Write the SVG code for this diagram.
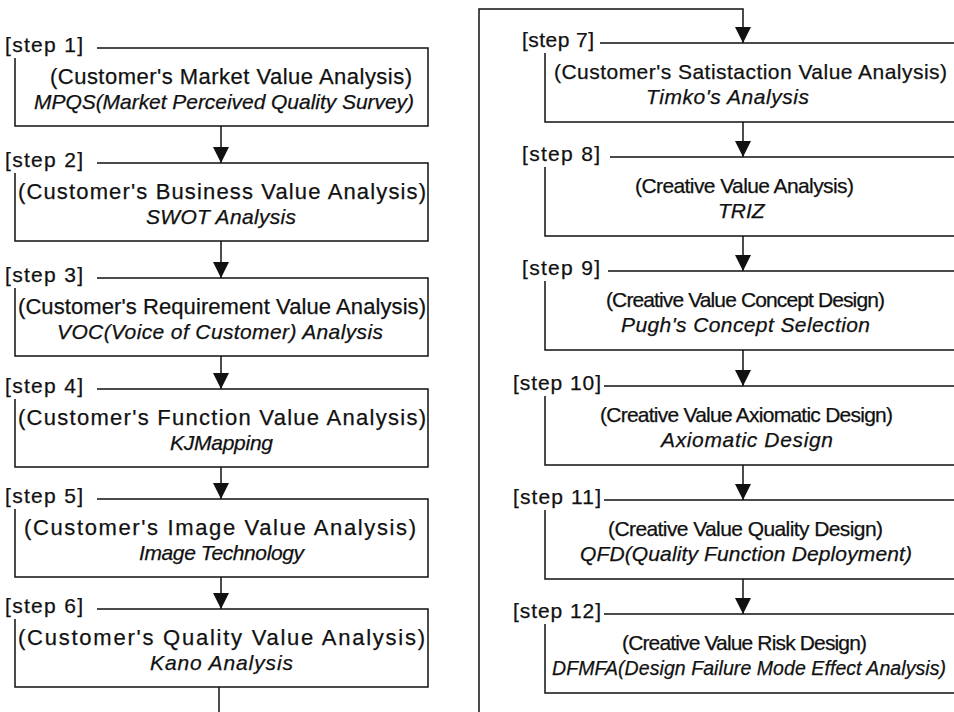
<svg xmlns="http://www.w3.org/2000/svg" width="954" height="712" viewBox="0 0 954 712">
  <style>
    .bg { fill: #ffffff; }
    .edge { fill: none; stroke: #111; stroke-width: 1.5; }
    .wire { fill: none; stroke: #111; stroke-width: 1.5; }
    text { font-family: "Liberation Sans", Arial, sans-serif; fill: #111; stroke: #111; stroke-width: 0.25; }
    .lbl { font-size: 21px; }
    .t1 { font-size: 22px; }
    .t1r { font-size: 21px; }
    .t2 { font-size: 21px; font-style: italic; }
  </style>
  <defs>
    <marker id="head" markerUnits="userSpaceOnUse" markerWidth="18" markerHeight="18" viewBox="0 0 18 18" refX="16" refY="9" orient="auto">
      <path d="M0,1 L16,9 L0,17 Z" fill="#111"/>
    </marker>
  </defs>
  <rect class="bg" x="0" y="0" width="954" height="712"/>

  <!-- connectors -->
  <g id="connectors">
    <path class="wire" d="M221,126 V163" marker-end="url(#head)"/>
    <path class="wire" d="M221,241 V278" marker-end="url(#head)"/>
    <path class="wire" d="M221,356 V389" marker-end="url(#head)"/>
    <path class="wire" d="M221,467 V499" marker-end="url(#head)"/>
    <path class="wire" d="M221,577 V609" marker-end="url(#head)"/>
    <path class="wire" d="M219,687 V712"/>
    <path class="wire" d="M479,712 V9 H743 V43" marker-end="url(#head)"/>
    <path class="wire" d="M743,122 V157" marker-end="url(#head)"/>
    <path class="wire" d="M743,236 V271" marker-end="url(#head)"/>
    <path class="wire" d="M743,350 V386" marker-end="url(#head)"/>
    <path class="wire" d="M743,465 V500" marker-end="url(#head)"/>
    <path class="wire" d="M743,579 V614" marker-end="url(#head)"/>
  </g>

  <!-- left column: customer value analysis steps -->
  <g id="step1">
    <text class="lbl" x="5" y="52" textLength="78" lengthAdjust="spacing">[step 1]</text>
    <path class="edge" d="M97,48 H428 V126 H15 V58"/>
    <text class="t1" x="50" y="84" textLength="362" lengthAdjust="spacing">(Customer's Market Value Analysis)</text>
    <text class="t2" x="34" y="109" textLength="380" lengthAdjust="spacing">MPQS(Market Perceived Quality Survey)</text>
  </g>
  <g id="step2">
    <text class="lbl" x="5" y="167" textLength="78" lengthAdjust="spacing">[step 2]</text>
    <path class="edge" d="M97,163 H428 V241 H15 V173"/>
    <text class="t1" x="18" y="199" textLength="408" lengthAdjust="spacing">(Customer's Business Value Analysis)</text>
    <text class="t2" x="146" y="224" textLength="150" lengthAdjust="spacing">SWOT Analysis</text>
  </g>
  <g id="step3">
    <text class="lbl" x="5" y="282" textLength="78" lengthAdjust="spacing">[step 3]</text>
    <path class="edge" d="M97,278 H428 V356 H15 V288"/>
    <text class="t1" x="18" y="314" textLength="408" lengthAdjust="spacing">(Customer's Requirement Value Analysis)</text>
    <text class="t2" x="57" y="339" textLength="326" lengthAdjust="spacing">VOC(Voice of Customer) Analysis</text>
  </g>
  <g id="step4">
    <text class="lbl" x="5" y="393" textLength="78" lengthAdjust="spacing">[step 4]</text>
    <path class="edge" d="M97,389 H428 V467 H15 V399"/>
    <text class="t1" x="18" y="425" textLength="408" lengthAdjust="spacing">(Customer's Function Value Analysis)</text>
    <text class="t2" x="170" y="450" textLength="103" lengthAdjust="spacing">KJMapping</text>
  </g>
  <g id="step5">
    <text class="lbl" x="5" y="503" textLength="78" lengthAdjust="spacing">[step 5]</text>
    <path class="edge" d="M97,499 H428 V577 H15 V509"/>
    <text class="t1" x="24" y="535" textLength="392" lengthAdjust="spacing">(Customer's Image Value Analysis)</text>
    <text class="t2" x="139" y="560" textLength="165" lengthAdjust="spacing">Image Technology</text>
  </g>
  <g id="step6">
    <text class="lbl" x="5" y="613" textLength="78" lengthAdjust="spacing">[step 6]</text>
    <path class="edge" d="M97,609 H428 V687 H15 V619"/>
    <text class="t1" x="18" y="645" textLength="407" lengthAdjust="spacing">(Customer's Quality Value Analysis)</text>
    <text class="t2" x="150" y="670" textLength="143" lengthAdjust="spacing">Kano Analysis</text>
  </g>

  <!-- right column: creative value design steps -->
  <g id="step7">
    <text class="lbl" x="522" y="47" textLength="72" lengthAdjust="spacing">[step 7]</text>
    <path class="edge" d="M600,43 H960 V122 H545 V53"/>
    <text class="t1r" x="554" y="79" textLength="393" lengthAdjust="spacing">(Customer's Satistaction Value Analysis)</text>
    <text class="t2" x="646" y="104" textLength="163" lengthAdjust="spacing">Timko's Analysis</text>
  </g>
  <g id="step8">
    <text class="lbl" x="522" y="161" textLength="78" lengthAdjust="spacing">[step 8]</text>
    <path class="edge" d="M610,157 H960 V236 H545 V167"/>
    <text class="t1r" x="635" y="193" textLength="219" lengthAdjust="spacing">(Creative Value Analysis)</text>
    <text class="t2" x="718" y="218">TRIZ</text>
  </g>
  <g id="step9">
    <text class="lbl" x="522" y="275" textLength="78" lengthAdjust="spacing">[step 9]</text>
    <path class="edge" d="M608,271 H960 V350 H545 V281"/>
    <text class="t1r" x="606" y="307" textLength="279" lengthAdjust="spacing">(Creative Value Concept Design)</text>
    <text class="t2" x="621" y="332" textLength="249" lengthAdjust="spacing">Pugh's Concept Selection</text>
  </g>
  <g id="step10">
    <text class="lbl" x="513" y="390" textLength="88" lengthAdjust="spacing">[step 10]</text>
    <path class="edge" d="M604,386 H960 V465 H545 V396"/>
    <text class="t1r" x="600" y="422" textLength="293" lengthAdjust="spacing">(Creative Value Axiomatic Design)</text>
    <text class="t2" x="661" y="447" textLength="172" lengthAdjust="spacing">Axiomatic Design</text>
  </g>
  <g id="step11">
    <text class="lbl" x="513" y="504" textLength="88" lengthAdjust="spacing">[step 11]</text>
    <path class="edge" d="M604,500 H960 V579 H545 V510"/>
    <text class="t1r" x="608" y="536" textLength="275" lengthAdjust="spacing">(Creative Value Quality Design)</text>
    <text class="t2" x="580" y="561" textLength="332" lengthAdjust="spacing">QFD(Quality Function Deployment)</text>
  </g>
  <g id="step12">
    <text class="lbl" x="513" y="618" textLength="88" lengthAdjust="spacing">[step 12]</text>
    <path class="edge" d="M604,614 H960 V693 H545 V624"/>
    <text class="t1r" x="622" y="650" textLength="245" lengthAdjust="spacing">(Creative Value Risk Design)</text>
    <text class="t2" x="552" y="675" textLength="394" lengthAdjust="spacing" style="font-size:19.5px">DFMFA(Design Failure Mode Effect Analysis)</text>
  </g>
</svg>
